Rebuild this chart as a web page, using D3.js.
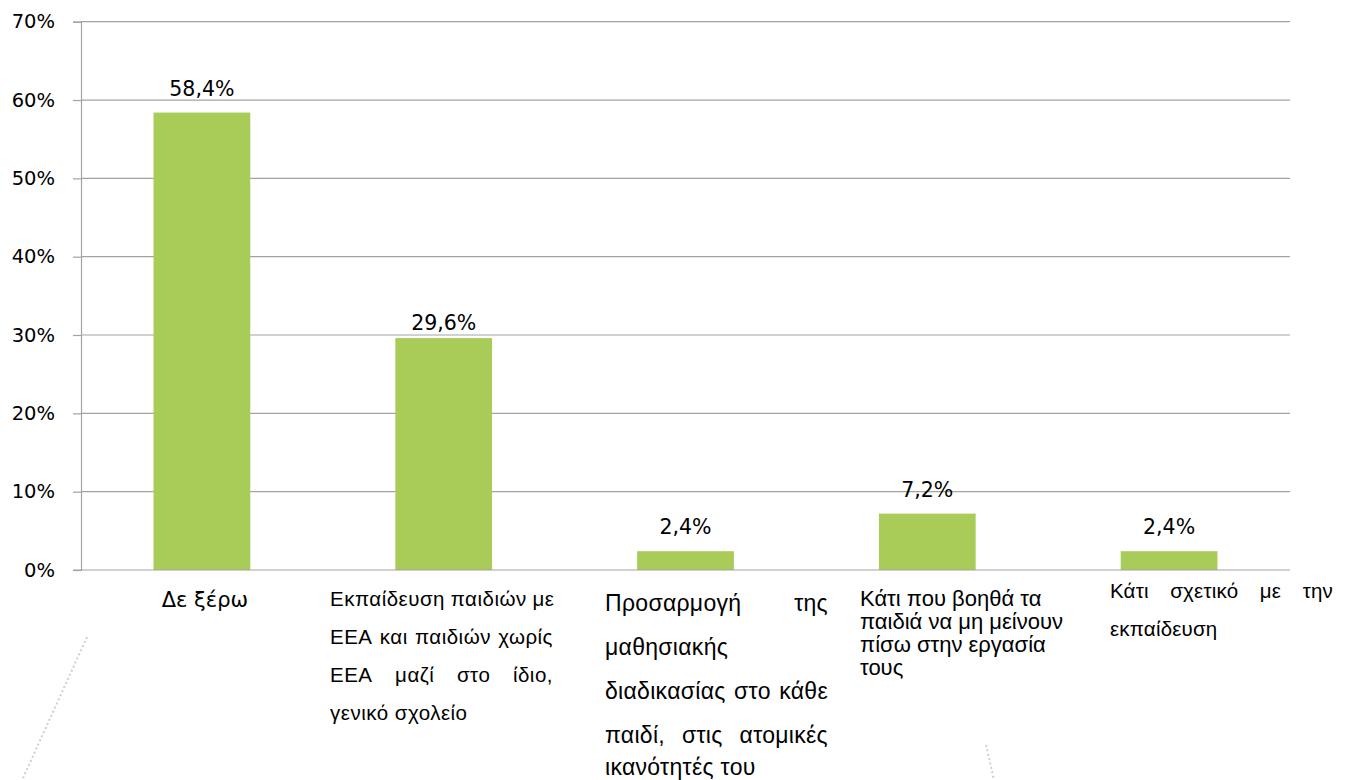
<!DOCTYPE html>
<html>
<head>
<meta charset="utf-8">
<script src="https://cdn.jsdelivr.net/npm/d3@7"></script>
<style>
  body { margin: 0; background: #fff; }
  svg { display: block; }
</style>
</head>
<body>
<div id="chart"></div>
<script>
// data
var categories = [
    "Δε ξέρω",
    "Εκπαίδευση παιδιών με ΕΕΑ και παιδιών χωρίς ΕΕΑ μαζί στο ίδιο, γενικό σχολείο",
    "Προσαρμογή της μαθησιακής διαδικασίας στο κάθε παιδί, στις ατομικές ικανότητές του",
    "Κάτι που βοηθά τα παιδιά να μη μείνουν πίσω στην εργασία τους",
    "Κάτι σχετικό με την εκπαίδευση"
];
var values = [58.4, 29.6, 2.4, 7.2, 2.4];
var yTicks = [0, 10, 20, 30, 40, 50, 60, 70];
// how the category texts are broken into lines
var labelLines = [
    ["Δε ξέρω"],
    ["Εκπαίδευση παιδιών με", "ΕΕΑ και παιδιών χωρίς", "ΕΕΑ μαζί στο ίδιο,", "γενικό σχολείο"],
    ["Προσαρμογή της", "μαθησιακής", "διαδικασίας στο κάθε", "παιδί, στις ατομικές", "ικανότητές του"],
    ["Κάτι που βοηθά τα", "παιδιά να μη μείνουν", "πίσω στην εργασία", "τους"],
    ["Κάτι σχετικό με την", "εκπαίδευση"]
];

//define svg
var svgWidth = 1348;
var svgHeight = 780;
var margin = { top: 21.7, bottom: 210, right: 58, left: 81 };
var chartWidth = svgWidth - margin.left - margin.right;
var chartHeight = svgHeight - margin.top - margin.bottom;

var axisFont = "'DejaVu Sans', Verdana, sans-serif";
var textFont = "'Liberation Sans', Arial, sans-serif";
var gridColor = "#a3a3a3";
var barColor = "#a9cb57";

var svg = d3.select("#chart")
    .append("svg")
    .attr("width", svgWidth)
    .attr("height", svgHeight);

var chartGroup = svg.append("g")
    .attr("transform", `translate(${margin.left}, ${margin.top})`);

//scales
var xBandScale = d3.scaleBand()
    .domain(d3.range(categories.length))
    .range([0, chartWidth])
    .paddingInner(0.6)
    .paddingOuter(0.3);

var yLinearScale = d3.scaleLinear()
    .domain([0, 70])
    .range([chartHeight, 0]);

//gridlines
chartGroup.append("g")
    .selectAll("line")
    .data(yTicks.slice(1))
    .enter()
    .append("line")
    .attr("x1", 0)
    .attr("x2", chartWidth)
    .attr("y1", d => yLinearScale(d))
    .attr("y2", d => yLinearScale(d))
    .attr("stroke", gridColor)
    .attr("stroke-width", 1.2);

//y axis
var leftAxis = d3.axisLeft(yLinearScale)
    .tickValues(yTicks)
    .tickSize(8)
    .tickPadding(18)
    .tickFormat(d => d + "%");

var yAxis = chartGroup.append("g")
    .call(leftAxis);
yAxis.select(".domain").attr("stroke", gridColor).attr("stroke-width", 1.2);
yAxis.selectAll(".tick line").attr("stroke", gridColor).attr("stroke-width", 1.2);
yAxis.selectAll(".tick text")
    .attr("fill", "#000")
    .style("font-family", axisFont)
    .style("font-size", "19.5px");

//bars
chartGroup.selectAll("rect.bar")
    .data(values)
    .enter()
    .append("rect")
    .attr("class", "bar")
    .attr("x", (d, i) => xBandScale(i))
    .attr("y", d => yLinearScale(d))
    .attr("width", xBandScale.bandwidth())
    .attr("height", d => chartHeight - yLinearScale(d))
    .attr("fill", barColor);

//x axis baseline
chartGroup.append("line")
    .attr("x1", -8)
    .attr("x2", chartWidth)
    .attr("y1", chartHeight)
    .attr("y2", chartHeight)
    .attr("stroke", gridColor)
    .attr("stroke-width", 1.2);

//data labels
chartGroup.selectAll("text.value")
    .data(values)
    .enter()
    .append("text")
    .attr("class", "value")
    .attr("x", (d, i) => xBandScale(i) + xBandScale.bandwidth() / 2)
    .attr("y", (d, i) => yLinearScale(d) - (i == 1 ? 8 : 17))
    .attr("text-anchor", "middle")
    .style("font-family", axisFont)
    .style("font-size", "20.5px")
    .text(d => d3.format(".1f")(d).replace(".", ",") + "%");

//category labels (some are justified text boxes)
var labelBoxes = [
    { x: null, w: 0, size: 21, ls: 0, font: axisFont, base: [607], align: "c" },
    { x: 330, w: 223, size: 20.5, ls: 0.5, font: textFont, base: [606, 644, 682, 720], align: "j" },
    { x: 605, w: 223, size: 23, ls: 0.3, font: textFont, base: [611, 655, 699, 743, 775], align: "j" },
    { x: 860, w: 230, size: 22, ls: 0, font: textFont, base: [606, 629, 652, 675], align: "l" },
    { x: 1110, w: 223, size: 20.5, ls: 0.2, font: textFont, base: [598, 636], align: "j" }
];

labelLines.forEach(function (lines, i) {
    var box = labelBoxes[i];
    var g = svg.append("g")
        .attr("class", "cat-label")
        .style("font-family", box.font)
        .style("font-size", box.size + "px")
        .style("letter-spacing", box.ls + "px");
    lines.forEach(function (line, j) {
        var y = box.base[j];
        if (box.align == "c") {
            g.append("text")
                .attr("x", margin.left + xBandScale(i) + xBandScale.bandwidth() / 2 + 3)
                .attr("y", y)
                .attr("text-anchor", "middle")
                .text(line);
            return;
        }
        var words = line.split(" ");
        var justify = box.align == "j" && j < lines.length - 1 && words.length > 1;
        if (!justify) {
            g.append("text")
                .attr("x", box.x)
                .attr("y", y)
                .text(line);
            return;
        }
        var nodes = words.map(w => g.append("text")
            .attr("y", y)
            .text(w));
        var widths = nodes.map(n => n.node().getComputedTextLength());
        var gap = Math.max((box.w - d3.sum(widths)) / (words.length - 1), box.size * 0.28);
        var xPos = box.x;
        nodes.forEach(function (n, k) {
            n.attr("x", xPos);
            xPos += widths[k] + gap;
        });
    });
});

//decorative dotted strokes
var dotted = [[[87, 637], [23, 778]], [[986, 745], [994, 780]]];
svg.selectAll("path.dots")
    .data(dotted)
    .enter()
    .append("path")
    .attr("class", "dots")
    .attr("d", d3.line())
    .attr("stroke", "#cfcfcf")
    .attr("stroke-width", 2)
    .attr("stroke-dasharray", "2,2.5")
    .attr("fill", "none");
</script>
</body>
</html>
